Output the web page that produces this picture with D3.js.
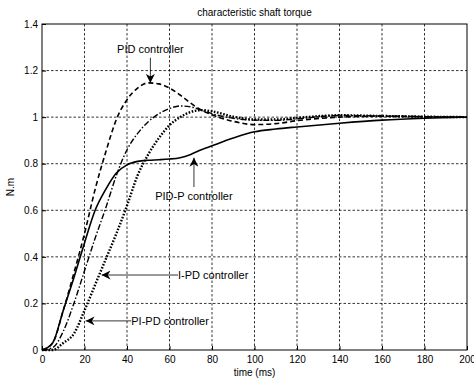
<!DOCTYPE html>
<html>
<head>
<meta charset="utf-8">
<style>
body { margin: 0; background: #fff; }
text { font-family: "Liberation Sans", Arial, sans-serif; fill: #000; }
.grid line { stroke: #000; stroke-dasharray: 2.5,2; stroke-width: 0.8; }
</style>
</head>
<body>
<svg width="474" height="382"></svg>
<script src="https://d3js.org/d3.v7.min.js"></script>
<script>
// time samples (ms)
var times = [0, 5, 10, 15, 20, 25, 30, 35, 40, 45, 50, 55, 60, 65, 70, 75, 80, 90, 100, 110, 120, 140, 160, 180, 200];

var pid    = [0, 0.03, 0.17, 0.33, 0.50, 0.69, 0.85, 0.99, 1.075, 1.125, 1.147, 1.143, 1.125, 1.095, 1.06, 1.03, 1.01, 0.982, 0.968, 0.972, 0.985, 1.0, 1.004, 1.002, 1.0];
var pidp   = [0, 0.03, 0.17, 0.31, 0.46, 0.60, 0.69, 0.76, 0.795, 0.81, 0.815, 0.817, 0.82, 0.826, 0.84, 0.86, 0.877, 0.91, 0.937, 0.949, 0.958, 0.974, 0.987, 0.995, 1.0];
var ipd    = [0, 0.01, 0.08, 0.20, 0.34, 0.48, 0.61, 0.75, 0.86, 0.93, 0.98, 1.015, 1.037, 1.048, 1.044, 1.03, 1.015, 0.995, 0.987, 0.986, 0.993, 1.007, 1.005, 1.002, 1.0];
var pipd   = [0, 0.0, 0.03, 0.07, 0.17, 0.28, 0.39, 0.50, 0.62, 0.75, 0.84, 0.91, 0.965, 1.0, 1.022, 1.03, 1.025, 1.002, 0.99, 0.99, 0.997, 1.008, 1.005, 1.002, 1.0];

var xTicks = [0, 20, 40, 60, 80, 100, 120, 140, 160, 180, 200];
var yTicks = [0, 0.2, 0.4, 0.6, 0.8, 1, 1.2, 1.4];

// annotations: [label, arrow tail t, tail v, tip t, tip v]
var notes = [
  ["PID controller",   51,   1.255, 51,   1.147],
  ["PID-P controller", 71.5, 0.70,  71.5, 0.826],
  ["I-PD controller",  64,   0.322, 28,   0.322],
  ["PI-PD controller", 42,   0.125, 20.5, 0.125]
];

var svg = d3.select("svg"),
    margin = {top: 24, right: 7, bottom: 32, left: 42},
    width = +svg.attr("width") - margin.left - margin.right,
    height = +svg.attr("height") - margin.top - margin.bottom,
    g = svg.append("g").attr("transform", "translate(" + margin.left + "," + margin.top + ")");

var x = d3.scaleLinear().domain([0, 200]).range([0, width]);
var y = d3.scaleLinear().domain([0, 1.4]).range([height, 0]);

svg.append("defs").append("marker")
    .attr("id", "head")
    .attr("viewBox", "0 0 10 10")
    .attr("refX", 10).attr("refY", 5)
    .attr("markerWidth", 9).attr("markerHeight", 9)
    .attr("markerUnits", "userSpaceOnUse")
    .attr("orient", "auto")
  .append("path")
    .attr("d", "M0,0L10,5L0,10L3,5Z")
    .attr("fill", "#000");

// grid
var grid = g.append("g").attr("class", "grid");
grid.selectAll(".gx").data(xTicks.slice(1, -1)).enter().append("line")
    .attr("x1", x).attr("x2", x).attr("y1", 0).attr("y2", height);
grid.selectAll(".gy").data(yTicks.slice(1, -1)).enter().append("line")
    .attr("y1", y).attr("y2", y).attr("x1", 0).attr("x2", width);

// axes (ticks inward like matlab)
g.append("g")
    .attr("transform", "translate(0," + height + ")")
    .call(d3.axisBottom(x).tickValues(xTicks).tickSizeInner(-4).tickSizeOuter(0).tickPadding(6))
    .call(function(a) { a.select(".domain").remove(); a.selectAll("text").attr("font-size", 10).attr("font-family", null); });
g.append("g")
    .call(d3.axisLeft(y).tickValues(yTicks).tickSizeInner(-4).tickSizeOuter(0).tickPadding(4)
      .tickFormat(function(d) { return d === 1 ? "1" : d3.format(".1f")(d).replace(/^0\.0$/, "0"); }))
    .call(function(a) { a.select(".domain").remove(); a.selectAll("text").attr("font-size", 10).attr("font-family", null); });

g.append("rect")
    .attr("width", width).attr("height", height)
    .attr("fill", "none").attr("stroke", "#000").attr("stroke-width", 1);

var line = d3.line()
    .x(function(d, i) { return x(times[i]); })
    .y(function(d) { return y(d); })
    .curve(d3.curveMonotoneX);

var series = [
  {v: pid,  dash: "5,3",       w: 1.6},
  {v: ipd,  dash: "6,2,1.5,2", w: 1.4},
  {v: pipd, dash: "1.6,1.6",   w: 2.4},
  {v: pidp, dash: null,        w: 1.6}
];
g.selectAll(".curve").data(series).enter().append("path")
    .attr("d", function(d) { return line(d.v); })
    .attr("fill", "none")
    .attr("stroke", "#000")
    .attr("stroke-width", function(d) { return d.w; })
    .attr("stroke-dasharray", function(d) { return d.dash; });

// annotations
notes.forEach(function(n, i) {
  g.append("line")
      .attr("x1", x(n[1])).attr("y1", y(n[2]))
      .attr("x2", x(n[3])).attr("y2", y(n[4]))
      .attr("stroke", "#000").attr("stroke-width", 0.8)
      .attr("marker-end", "url(#head)");
  var t = g.append("text").attr("font-size", 11).text(n[0]);
  if (i < 2) {
    t.attr("x", x(n[1])).attr("y", y(n[2]) + (i === 0 ? -5 : 13)).attr("text-anchor", "middle");
  } else {
    t.attr("x", x(n[1])).attr("y", y(n[2])).attr("dy", "0.35em");
  }
});

svg.append("text")
    .attr("x", margin.left + width / 2).attr("y", 16)
    .attr("text-anchor", "middle").attr("font-size", 10)
    .text("characteristic shaft torque");
svg.append("text")
    .attr("x", margin.left + width / 2).attr("y", 376)
    .attr("text-anchor", "middle").attr("font-size", 10)
    .text("time (ms)");
svg.append("text")
    .attr("transform", "translate(14," + (margin.top + height / 2) + ") rotate(-90)")
    .attr("text-anchor", "middle").attr("font-size", 10)
    .text("N.m");
</script>
</body>
</html>
